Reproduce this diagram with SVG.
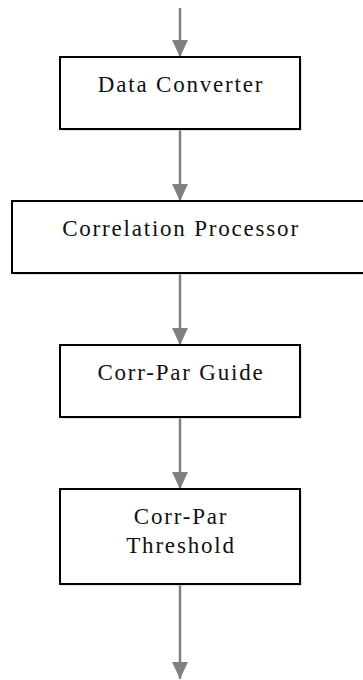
<svg xmlns="http://www.w3.org/2000/svg" width="363" height="680" viewBox="0 0 363 680">
<style>
.box{fill:#fff;stroke:#000;stroke-width:2}
.sh{fill:#c8c8c8}
.lbl{font-family:"Liberation Serif",serif;font-size:23px;fill:#111;text-anchor:middle;letter-spacing:1.8px}
.edge{stroke:#808080;stroke-width:2.5;fill:none;marker-end:url(#ah)}
</style>
<defs>
<marker id="ah" markerUnits="userSpaceOnUse" markerWidth="17" markerHeight="16" refX="17" refY="8" orient="auto" viewBox="0 0 17 16">
<path d="M0,0 L17,8 L0,16 Z" fill="#808080"/>
</marker>
</defs>
<rect width="363" height="680" fill="#fff"/>
<g id="connectors">
<path class="edge" d="M180,8 L180,57"/>
<path class="edge" d="M180,129 L180,201"/>
<path class="edge" d="M180,273 L180,345"/>
<path class="edge" d="M180,417 L180,489"/>
<path class="edge" d="M180,584 L180,679"/>
</g>
<g id="data-converter">
<rect class="sh" x="61.5" y="58.5" width="240" height="72"/>
<rect class="box" x="60" y="57" width="240" height="72"/>
<text class="lbl" x="181" y="92">Data Converter</text>
</g>
<g id="correlation-processor">
<rect class="sh" x="13.5" y="202.5" width="360" height="72"/>
<rect class="box" x="12" y="201" width="360" height="72"/>
<text class="lbl" x="181" y="236">Correlation Processor</text>
</g>
<g id="corr-par-guide">
<rect class="sh" x="61.5" y="346.5" width="240" height="72"/>
<rect class="box" x="60" y="345" width="240" height="72"/>
<text class="lbl" x="181" y="380">Corr-Par Guide</text>
</g>
<g id="corr-par-threshold">
<rect class="sh" x="61.5" y="490.5" width="240" height="95"/>
<rect class="box" x="60" y="489" width="240" height="95"/>
<text class="lbl" x="181" y="524">Corr-Par</text>
<text class="lbl" x="181" y="553">Threshold</text>
</g>
</svg>
